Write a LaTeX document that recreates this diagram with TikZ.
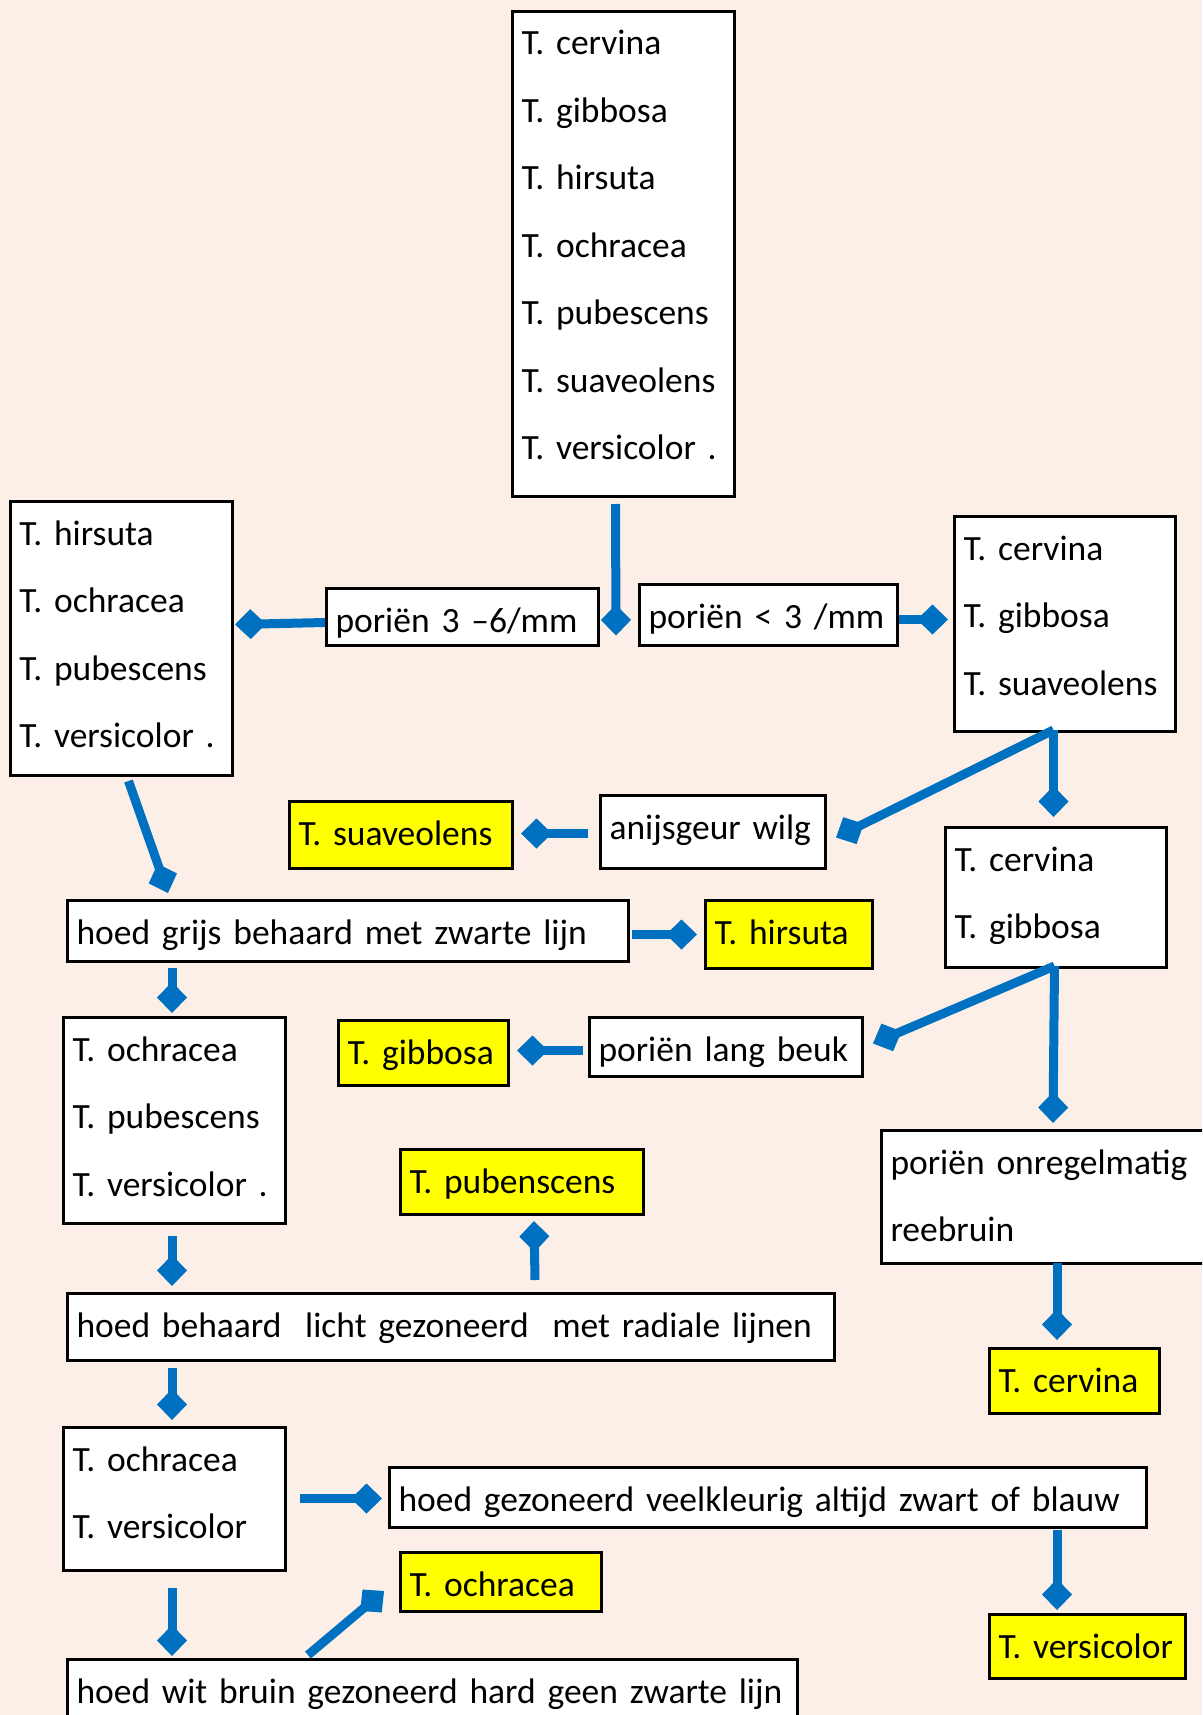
\documentclass[tikz,border=0pt]{standalone}
\usepackage{fontspec}
\setmainfont{Carlito}
\usetikzlibrary{arrows.meta}
\definecolor{bgpeach}{RGB}{252,239,231}
\definecolor{arrblue}{RGB}{0,112,192}
\definecolor{yel}{RGB}{255,255,0}
\tikzset{
  box/.style={draw=black, line width=3pt, fill=white, anchor=north west,
    inner xsep=9pt, inner ysep=0pt, align=left, text height=43.5pt,
    font=\fontsize{35.5}{67.5}\selectfont},
  ybox/.style={box, fill=yel},
  arr/.style={draw=arrblue, line width=9pt, -{Diamond[length=31pt,width=30pt]}}
}
\begin{document}
\begin{tikzpicture}[x=1pt,y=1pt]
\useasboundingbox (0,0) rectangle (1202,-1715);
\fill[bgpeach] (0,0) rectangle (1202,-1715);
\clip (0,0) rectangle (1202,-1715);

\node[box, text width=204pt, text depth=441.5pt] (top) at (511,-10)
  {\mbox{T. cervina}\\\mbox{T. gibbosa}\\\mbox{T. hirsuta}\\\mbox{T. ochracea}\\\mbox{T. pubescens}\\\mbox{T. suaveolens}\\\mbox{T. versicolor .}};
\node[box, text width=204pt, text depth=230.5pt] (lb) at (9,-500)
  {\mbox{T. hirsuta}\\\mbox{T. ochracea}\\\mbox{T. pubescens}\\\mbox{T. versicolor .}};
\node[box, text width=254pt, text depth=13.5pt] (p36) at (325,-587) {\mbox{poriën 3 –6/mm}};
\node[box, text width=240pt, text depth=17.5pt] (plt3) at (638,-583) {\mbox{poriën < 3 /mm}};
\node[box, text width=203pt, text depth=171.5pt] (rb) at (953,-515)
  {\mbox{T. cervina}\\\mbox{T. gibbosa}\\\mbox{T. suaveolens}};
\node[box, text width=207pt, text depth=29.5pt] (anis) at (599,-794) {\mbox{anijsgeur wilg}};
\node[ybox, text width=205pt, text depth=23.5pt] (suav) at (288,-800) {\mbox{T. suaveolens}};
\node[box, text width=203pt, text depth=96.5pt] (cg) at (944,-826)
  {\mbox{T. cervina}\\\mbox{T. gibbosa}};
\node[box, text width=543pt, text depth=17.5pt] (hg) at (66,-899) {\mbox{hoed grijs behaard met zwarte lijn}};
\node[ybox, text width=149pt, text depth=24.5pt] (hirs) at (704,-899) {\mbox{T. hirsuta}};
\node[box, text width=204pt, text depth=162.5pt] (ops) at (62,-1016)
  {\mbox{T. ochracea}\\\mbox{T. pubescens}\\\mbox{T. versicolor .}};
\node[ybox, text width=152pt, text depth=21.5pt] (gibb) at (337,-1019) {\mbox{T. gibbosa}};
\node[box, text width=255pt, text depth=15.5pt] (plb) at (588,-1016) {\mbox{poriën lang beuk}};
\node[box, text width=332pt, text depth=89.5pt] (onr) at (880,-1129)
  {\mbox{poriën onregelmatig}\\\mbox{reebruin}};
\node[ybox, text width=225pt, text depth=21.5pt] (pub) at (399,-1148) {\mbox{T. pubenscens}};
\node[box, text width=749pt, text depth=23.5pt] (hb) at (66,-1292)
  {\mbox{hoed behaard\ \ licht gezoneerd\ \ met radiale lijnen}};
\node[ybox, text width=152pt, text depth=21.5pt] (cerv) at (988,-1347) {\mbox{T. cervina}};
\node[box, text width=204pt, text depth=99.5pt] (ov) at (62,-1426)
  {\mbox{T. ochracea}\\\mbox{T. versicolor}};
\node[box, text width=739pt, text depth=16.5pt] (hgz) at (388,-1466)
  {\mbox{hoed gezoneerd veelkleurig altijd zwart of blauw}};
\node[ybox, text width=183pt, text depth=15.5pt] (och) at (399,-1551) {\mbox{T. ochracea}};
\node[ybox, text width=178pt, text depth=20.5pt] (vers) at (988,-1613) {\mbox{T. versicolor}};
\node[box, text width=712pt, text depth=24.5pt] (hw) at (66,-1658)
  {\mbox{hoed wit bruin gezoneerd hard geen zwarte lijn}};

% connectors
\draw[arr] ([shift={(-8,-6)}]top.south) -- ([shift={(-22,-20.5)}]plt3.west);
\draw[arr] ([shift={(0,-5.5)}]p36.west) -- ([shift={(1,14)}]lb.east);
\draw[arr] ([shift={(0,-4.5)}]plt3.east) -- ([shift={(-5,4.5)}]rb.west);
\draw[arr] ([shift={(-11.5,3)}]rb.south) -- ([shift={(-2.5,9)}]cg.north);
\draw[arr] ([shift={(-11.5,3)}]rb.south) -- ([shift={(9,-5.5)}]anis.east);
\draw[arr] ([shift={(-11,-1.5)}]anis.west) -- ([shift={(7,1.5)}]suav.east);
\draw[arr] ([shift={(7,-4)}]lb.south) -- ([shift={(102,6)}]hg.north west);
\draw[arr] ([shift={(2,-3.5)}]hg.east) -- ([shift={(-7,0)}]hirs.west);
\draw[arr] ([shift={(106,-5)}]hg.south west) -- ([shift={(110,3)}]ops.north west);
\draw[arr] ([shift={(-1.5,3)}]cg.south) -- ([shift={(173,6)}]onr.north west);
\draw[arr] ([shift={(-1.5,3)}]cg.south) -- ([shift={(9,3.5)}]plb.east);
\draw[arr] ([shift={(-5,-3.5)}]plb.west) -- ([shift={(7,2.5)}]gibb.east);
\draw[arr] ([shift={(177,2)}]onr.south west) -- ([shift={(69,7)}]cerv.north west);
\draw[arr] ([shift={(110,-11)}]ops.south west) -- ([shift={(106,6)}]hb.north west);
\draw[arr] ([shift={(469,12)}]hb.north west) -- ([shift={(135,-5)}]pub.south west);
\draw[arr] ([shift={(106,-6)}]hb.south west) -- ([shift={(110,6)}]ov.north west);
\draw[arr] ([shift={(13,0.5)}]ov.east) -- ([shift={(-6,-1)}]hgz.west);
\draw[arr] ([shift={(110,-16)}]ov.south west) -- ([shift={(106,2)}]hw.north west);
\draw[arr] ([shift={(242,3)}]hw.north west) -- ([shift={(-15,22)}]och.south west);
\draw[arr] ([shift={(-91,-1)}]hgz.south east) -- ([shift={(69,3)}]vers.north west);
\end{tikzpicture}
\end{document}
